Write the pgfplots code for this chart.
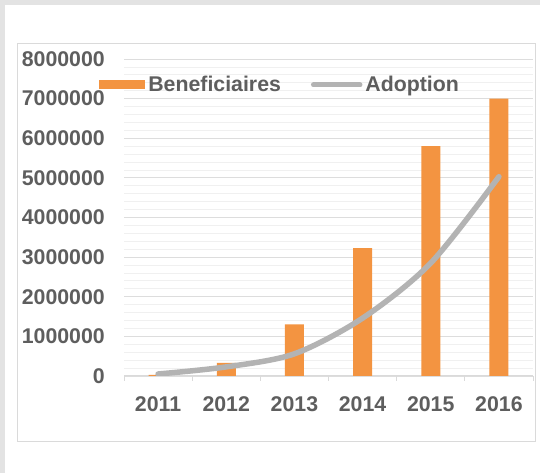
\documentclass[border=0pt]{standalone}
\usepackage{pgfplots}
\pgfplotsset{compat=1.18}
\usepackage{fontspec}
\setmainfont{Liberation Sans}
\definecolor{barorange}{HTML}{F39441}
\definecolor{linegray}{HTML}{B3B3B3}
\definecolor{txtgray}{HTML}{5E5E5E}
\definecolor{framegray}{HTML}{E3E3E3}
\definecolor{panelgray}{HTML}{DADADA}
\definecolor{majgrid}{HTML}{DDDDDD}
\definecolor{mingrid}{HTML}{F0F0F0}
\begin{document}
\begin{tikzpicture}
\path[use as bounding box] (0,0) rectangle (540bp,473bp);
\fill[white] (0,0) rectangle (540bp,473bp);
\fill[framegray] (0,468bp) rectangle (540bp,473bp);
\fill[framegray] (0,0) rectangle (5bp,473bp);
\draw[panelgray, line width=1bp] (17bp,31bp) rectangle (535bp,429bp);
\begin{axis}[
  at={(124bp,97bp)}, anchor=south west,
  scale only axis, width=409bp, height=317bp,
  xmin=-0.5, xmax=5.5, ymin=0, ymax=8000000,
  scaled y ticks=false,
  font=\fontsize{21.3bp}{25bp}\selectfont\bfseries,
  xtick={0,1,2,3,4,5},
  xticklabels={2011,2012,2013,2014,2015,2016},
  ytick={0,1000000,2000000,3000000,4000000,5000000,6000000,7000000,8000000},
  yticklabels={0,1000000,2000000,3000000,4000000,5000000,6000000,7000000,8000000},
  minor xtick={-0.5,0.5,1.5,2.5,3.5,4.5,5.5},
  minor y tick num=4,
  ymajorgrids, yminorgrids,
  major grid style={majgrid, line width=0.8bp},
  minor grid style={mingrid, line width=0.8bp},
  axis x line*=bottom, axis y line*=left,
  x axis line style={panelgray, line width=1bp, -},
  y axis line style={draw=none},
  tick align=outside,
  major tick length=0pt,
  minor tick length=5bp,
  xtick style={draw=none},
  ytick style={draw=none},
  minor x tick style={draw=panelgray, line width=1bp},
  minor y tick style={draw=none},
  tick label style={txtgray},
  xticklabel style={anchor=north, inner sep=0pt, yshift=-20bp},
  yticklabel style={anchor=east, inner sep=0pt, xshift=-19bp},
  legend style={at={(0.383,0.918)}, anchor=center, draw=none, fill=none,
    legend columns=2, text=txtgray, nodes={inner sep=3bp},
    /tikz/every even column/.append style={column sep=27bp}},
  legend cell align=left,
]
\addplot[ybar, bar width=19bp, bar shift=0pt, fill=barorange, draw=none,
  legend image code/.code={\fill[barorange] (0bp,-4.5bp) rectangle (46bp,4.5bp);}]
  coordinates {(0,30000) (1,330000) (2,1300000) (3,3230000) (4,5800000) (5,7000000)};
\addlegendentry{Beneficiaires}
\addplot[linegray, line width=5.5bp, line cap=round, smooth, tension=0.5,
  legend image code/.code={\draw[linegray, line width=5bp, line cap=round] (2.5bp,0) -- (49bp,0);}]
  coordinates {(0,50000) (1,230000) (2,560000) (3,1460000) (4,2850000) (5,5030000)};
\addlegendentry{Adoption}
\end{axis}
\end{tikzpicture}
\end{document}
